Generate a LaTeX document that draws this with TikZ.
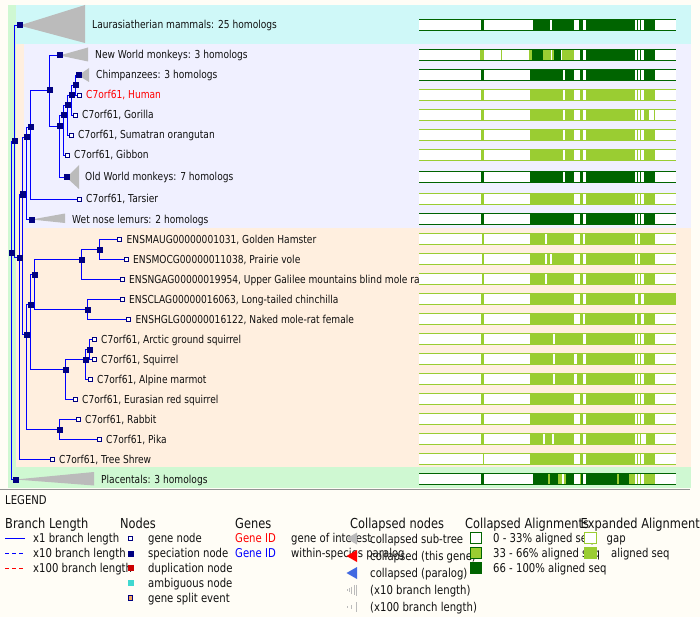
\documentclass[tikz,border=0pt]{standalone}
\usepackage{fontspec}
\setmainfont{DejaVu Sans}[FakeStretch=0.83]
\definecolor{bg}{HTML}{FFFDF6}
\definecolor{bandgreen}{HTML}{CFF8D2}
\definecolor{bandcyan}{HTML}{CFF8F8}
\definecolor{bandpeach}{HTML}{FFEFDF}
\definecolor{bandlav}{HTML}{F0F0FF}
\definecolor{navy}{HTML}{000080}
\definecolor{treeblue}{HTML}{0000FF}
\definecolor{collgray}{HTML}{BBBBBB}
\definecolor{txt}{HTML}{111111}
\definecolor{lg}{HTML}{9ACD32}
\definecolor{dg}{HTML}{006400}
\definecolor{dupred}{HTML}{CC0000}
\definecolor{ambig}{HTML}{40D8D0}
\definecolor{splitor}{HTML}{F4A460}
\definecolor{parblue}{HTML}{4169E1}
\newcommand\tf{\fontsize{11}{13}\selectfont}
\newcommand\lf{\fontsize{12.2}{14}\selectfont}
\newcommand\hf{\fontsize{13.8}{16}\selectfont}
\newcommand\alnbar[3]{%
  \fill[white] (419,{#1-6}) rectangle (676,{#1+6});
  \foreach \p/\q/\cl in {#3}{\fill[\cl] ({410+\p/3},{#1-6}) rectangle ({410+\q/3},{#1+6});}
  \draw[#2,line width=1bp] (419,{#1-5.5}) -- (676,{#1-5.5}) (419,{#1+5.5}) -- (676,{#1+5.5});
}
\tikzset{
  br/.style={draw=treeblue, line width=1.1bp},
  spec/.style={fill=navy, minimum size=6bp, inner sep=0pt, draw=none},
  leafbox/.style={fill=white, draw=navy, line width=1bp, minimum size=4.2bp, inner sep=0pt},
  coll/.style={fill=collgray, draw=none},
  lbl/.style={anchor=base west, inner sep=0pt, font=\tf, text=txt},
  leg/.style={anchor=base west, inner sep=0pt, font=\lf, text=txt},
  hdg/.style={anchor=base west, inner sep=0pt, font=\hf, text=txt},
}
\begin{document}
\begin{tikzpicture}[x=1bp,y=-1bp]
\useasboundingbox (0,0) rectangle (700,617);
\fill[bg] (0,0) rectangle (700,617);
% bands
\fill[bandgreen] (8,5) rectangle (691,488);
\fill[bandcyan] (16,5) rectangle (691,44);
\fill[bandpeach] (16,44) rectangle (691,467);
\fill[bandlav] (24,44) rectangle (691,228);

% tree coordinates (shifted half a pixel for crisp lines)
\begin{scope}[shift={(0.5,0.5)}]
\coordinate (R) at (11,252);
\coordinate (B) at (14,141);
\coordinate (C) at (19,257);
\coordinate (D) at (22,194);
\coordinate (Prim) at (26,137);
\coordinate (Hap) at (30,127);
\coordinate (Sim) at (49,90);
\coordinate (Cat) at (59,126);
\coordinate (Hom) at (63,115);
\coordinate (HGO) at (67,105);
\coordinate (HG) at (71,95);
\coordinate (HC) at (75,85);
\coordinate (Laur) at (19,25);
\coordinate (NWM) at (59,55);
\coordinate (Chimp) at (78,75);
\coordinate (OWM) at (66,177);
\coordinate (Lem) at (31,219);
\coordinate (Plac) at (15,479);
\coordinate (Gli) at (26,334);
\coordinate (Rod) at (30,304);
\coordinate (RodA) at (34,274);
\coordinate (Mur) at (81,259);
\coordinate (HV) at (99,249);
\coordinate (Hys) at (87,309);
\coordinate (Sq) at (65,369);
\coordinate (SqB) at (85,359);
\coordinate (SqC) at (89,349);
\coordinate (Lago) at (59,429);
\coordinate (lHuman) at (79,95);
\coordinate (lGor) at (75,115);
\coordinate (lOra) at (71,135);
\coordinate (lGib) at (67,155);
\coordinate (lTar) at (79,199);
\coordinate (lHam) at (119,239);
\coordinate (lVole) at (126,259);
\coordinate (lGal) at (122,279);
\coordinate (lChin) at (122,299);
\coordinate (lNak) at (128,319);
\coordinate (lArc) at (94,339);
\coordinate (lSqu) at (94,359);
\coordinate (lAlp) at (90,379);
\coordinate (lEur) at (75,399);
\coordinate (lRab) at (78,419);
\coordinate (lPika) at (99,439);
\coordinate (lShrew) at (52,459);
\end{scope}

% collapsed triangles
\fill[coll] (Laur) -- (85,5) -- (85,43) -- cycle;
\fill[coll] (NWM) -- (88,47.5) -- (88,61.5) -- cycle;
\fill[coll] (Chimp) -- (89,68) -- (89,82) -- cycle;
\fill[coll] (OWM) -- (79,165) -- (79,189) -- cycle;
\fill[coll] (Lem) -- (65,213.5) -- (65,223) -- cycle;
\fill[coll] (Plac) -- (94,472) -- (94,485.5) -- cycle;

% branches
\draw[br] (R) |- (B) (R) |- (Plac)
  (B) |- (Laur) (B) |- (C)
  (C) |- (D) (C) |- (lShrew)
  (D) |- (Prim) (D) |- (Gli)
  (Prim) |- (Hap) (Prim) |- (Lem)
  (Hap) |- (Sim) (Hap) |- (lTar)
  (Sim) |- (NWM) (Sim) |- (Cat)
  (Cat) |- (Hom) (Cat) |- (OWM)
  (Hom) |- (HGO) (Hom) |- (lGib)
  (HGO) |- (HG) (HGO) |- (lOra)
  (HG) |- (HC) (HG) |- (lGor)
  (HC) |- (Chimp) (HC) |- (lHuman)
  (Gli) |- (Rod) (Gli) |- (Lago)
  (Rod) |- (RodA) (Rod) |- (Sq)
  (RodA) |- (Mur) (RodA) |- (Hys)
  (Mur) |- (HV) (Mur) |- (lGal)
  (HV) |- (lHam) (HV) |- (lVole)
  (Hys) |- (lChin) (Hys) |- (lNak)
  (Sq) |- (SqB) (Sq) |- (lEur)
  (SqB) |- (SqC) (SqB) |- (lAlp)
  (SqC) |- (lArc) (SqC) |- (lSqu)
  (Lago) |- (lRab) (Lago) |- (lPika);

% internal / collapsed node squares
\foreach \n in {R,B,C,D,Prim,Hap,Sim,Cat,Hom,HGO,HG,HC,Laur,NWM,Chimp,OWM,Lem,Plac,Gli,Rod,RodA,Mur,HV,Hys,Sq,SqB,SqC,Lago}
  \node[spec] (n\n) at (\n) {};
% leaf squares
\foreach \n in {lHuman,lGor,lOra,lGib,lTar,lHam,lVole,lGal,lChin,lNak,lArc,lSqu,lAlp,lEur,lRab,lPika,lShrew}
  \node[leafbox] (b\n) at (\n) {};

% labels
\node[lbl] (tLaur) at (92,29) {Laurasiatherian mammals: 25 homologs};
\node[lbl] (tNWM) at (95,59) {New World monkeys: 3 homologs};
\node[lbl] (tChimp) at (96,79) {Chimpanzees: 3 homologs};
\node[lbl, text=red] (tHuman) at (86,99) {C7orf61, Human};
\node[lbl] (tGor) at (82,119) {C7orf61, Gorilla};
\node[lbl] (tOra) at (78,139) {C7orf61, Sumatran orangutan};
\node[lbl] (tGib) at (74,159) {C7orf61, Gibbon};
\node[lbl] (tOWM) at (85,181) {Old World monkeys: 7 homologs};
\node[lbl] (tTar) at (86,203) {C7orf61, Tarsier};
\node[lbl] (tLem) at (72,223) {Wet nose lemurs: 2 homologs};
\node[lbl] (tHam) at (126.5,243) {ENSMAUG00000001031, Golden Hamster};
\node[lbl] (tVole) at (133,263) {ENSMOCG00000011038, Prairie vole};
\node[lbl] (tGal) at (129,283) {ENSNGAG00000019954, Upper Galilee mountains blind mole rat};
\node[lbl] (tChin) at (129,303) {ENSCLAG00000016063, Long-tailed chinchilla};
\node[lbl] (tNak) at (135.5,323) {ENSHGLG00000016122, Naked mole-rat female};
\node[lbl] (tArc) at (101,343) {C7orf61, Arctic ground squirrel};
\node[lbl] (tSqu) at (101,363) {C7orf61, Squirrel};
\node[lbl] (tAlp) at (97,383) {C7orf61, Alpine marmot};
\node[lbl] (tEur) at (82,403) {C7orf61, Eurasian red squirrel};
\node[lbl] (tRab) at (85,423) {C7orf61, Rabbit};
\node[lbl] (tPika) at (106,443) {C7orf61, Pika};
\node[lbl] (tShrew) at (59,463) {C7orf61, Tree Shrew};
\node[lbl] (tPlac) at (101,483) {Placentals: 3 homologs};

% alignment bars
\alnbar{25}{dg}{213/221/dg,369/420/dg,426/492/dg,506/518/dg,528/675/dg,681/684/dg,690/693/dg,702/735/dg}
\alnbar{55}{dg}{210/221/lg,273/275/lg,357/366/lg,366/399/dg,399/423/lg,426/432/lg,432/453/dg,456/492/lg,510/518/dg,528/675/dg,681/684/dg,690/693/dg,702/735/dg}
\alnbar{75}{dg}{213/221/dg,360/459/dg,465/492/dg,510/518/dg,528/675/dg,681/684/dg,690/693/dg,702/735/dg}
\alnbar{95}{lg}{213/221/lg,360/459/lg,465/492/lg,510/518/lg,528/675/lg,681/684/lg,690/693/lg,702/735/lg}
\alnbar{115}{lg}{213/221/lg,360/459/lg,465/492/lg,510/518/lg,528/675/lg,681/684/lg,690/693/lg,702/717/lg,732/735/lg}
\alnbar{135}{lg}{213/221/lg,360/459/lg,465/492/lg,510/518/lg,528/675/lg,681/684/lg,690/693/lg,702/735/lg}
\alnbar{155}{lg}{213/221/lg,360/459/lg,465/492/lg,510/518/lg,528/675/lg,681/684/lg,690/693/lg,702/735/lg}
\alnbar{177}{dg}{213/221/dg,360/459/dg,465/492/dg,510/518/dg,528/675/dg,681/684/dg,690/693/dg,702/735/dg}
\alnbar{199}{lg}{213/221/lg,360/492/lg,510/518/lg,528/675/lg,681/684/lg,690/693/lg,702/735/lg}
\alnbar{219}{dg}{213/221/dg,360/492/dg,510/518/dg,528/675/dg,681/684/dg,690/693/dg,702/735/dg}
\alnbar{239}{lg}{215/221/lg,360/405/lg,411/492/lg,510/518/lg,524/675/lg,681/684/lg,690/735/lg}
\alnbar{259}{lg}{215/221/lg,360/405/lg,411/420/lg,426/492/lg,510/518/lg,528/675/lg,681/684/lg,690/735/lg}
\alnbar{279}{lg}{215/221/lg,360/405/lg,411/492/lg,510/518/lg,528/675/lg,681/684/lg,690/693/lg,702/735/lg}
\alnbar{299}{lg}{213/221/lg,360/492/lg,510/518/lg,528/675/lg,683/693/lg,702/797/lg}
\alnbar{319}{lg}{213/221/lg,360/492/lg,510/518/lg,524/675/lg,681/693/lg,702/735/lg}
\alnbar{339}{lg}{213/221/lg,360/429/lg,435/518/lg,528/675/lg,681/684/lg,690/693/lg,702/735/lg}
\alnbar{359}{lg}{213/221/lg,360/429/lg,435/492/lg,500/518/lg,528/675/lg,681/684/lg,690/693/lg,702/735/lg}
\alnbar{379}{lg}{213/221/lg,360/429/lg,435/492/lg,500/518/lg,528/675/lg,681/684/lg,690/693/lg,702/735/lg}
\alnbar{399}{lg}{213/221/lg,360/492/lg,510/518/lg,528/675/lg,681/684/lg,690/693/lg,702/735/lg}
\alnbar{419}{lg}{213/221/lg,360/492/lg,510/518/lg,528/675/lg,681/684/lg,690/693/lg,702/735/lg}
\alnbar{439}{lg}{213/221/lg,360/399/lg,405/426/lg,432/492/lg,510/518/lg,528/675/lg,681/684/lg,690/693/lg,708/735/lg}
\alnbar{459}{lg}{219/221/lg,360/492/lg,510/518/lg,528/675/lg,681/684/lg,690/693/lg,702/735/lg}
\alnbar{479}{dg}{213/221/dg,369/414/dg,414/420/lg,420/444/dg,444/456/lg,462/468/lg,468/492/dg,510/513/lg,513/518/dg,528/621/dg,621/627/lg,627/657/dg,657/675/lg,681/684/lg,690/693/lg,702/735/lg}

% legend
\draw[draw=gray!85, line width=1bp] (0,489.5) -- (690,489.5);
\node[leg] (legtitle) at (5,504.5) {LEGEND};
\node[hdg] (h1) at (5,528) {Branch Length};
\node[hdg] (h2) at (120,528) {Nodes};
\node[hdg] (h3) at (235,528) {Genes};
\node[hdg] (h4) at (350,528) {Collapsed nodes};
\node[hdg] (h5) at (465,528) {Collapsed Alignments};
\node[hdg] (h6) at (580.5,528) {Expanded Alignments};
% branch length
\draw[treeblue, line width=1.1bp] (5,538.5) -- (25,538.5);
\draw[treeblue, line width=1.1bp, dash pattern=on 4bp off 3bp] (5,553.5) -- (25,553.5);
\draw[red, line width=1.1bp, dash pattern=on 4bp off 3bp] (5,568.5) -- (25,568.5);
\node[leg] (bl1) at (33,542.4) {x1 branch length};
\node[leg] (bl2) at (33,557.4) {x10 branch length};
\node[leg] (bl3) at (33,572.4) {x100 branch length};
% nodes
\node[leafbox] (ln1) at (130.5,538.5) {};
\node[spec] (ln2) at (130.5,553.5) {};
\node[spec, fill=dupred] (ln3) at (130.5,568) {};
\node[spec, fill=ambig] (ln4) at (130.5,583) {};
\node[leafbox, fill=splitor] (ln5) at (130.5,598) {};
\node[leg] (nt1) at (148,542.4) {gene node};
\node[leg] (nt2) at (148,557.4) {speciation node};
\node[leg] (nt3) at (148,572.4) {duplication node};
\node[leg] (nt4) at (148,587.4) {ambiguous node};
\node[leg] (nt5) at (148,602.4) {gene split event};
% genes
\node[leg, text=red] (g1) at (235,542.4) {Gene ID};
\node[leg, text=treeblue] (g2) at (235,557.4) {Gene ID};
\node[leg] (g3) at (291,542.4) {gene of interest};
\node[leg] (g4) at (291,557.4) {within-species paralog};
% collapsed nodes
\fill[collgray] (346.5,538.5) -- (357,532.5) -- (357,544.5) -- cycle;
\fill[red] (346.5,556) -- (357,550) -- (357,562) -- cycle;
\fill[parblue] (346.5,573) -- (357,567) -- (357,579) -- cycle;
\foreach \xx/\hh in {347/0.6,349.3/2,351.6/3.5,353.9/5,356.2/5.5}
  \draw[collgray, line width=0.8bp] (\xx,{590-\hh}) -- (\xx,{590+\hh});
\foreach \xx/\hh in {347/0.6,351/2,356/5}
  \draw[collgray, line width=0.8bp] (\xx,{607-\hh}) -- (\xx,{607+\hh});
\node[leg] (c1) at (370,543) {collapsed sub-tree};
\node[leg] (c2) at (370,560.4) {collapsed (this gene)};
\node[leg] (c3) at (370,577.4) {collapsed (paralog)};
\node[leg] (c4) at (370,594.4) {(x10 branch length)};
\node[leg] (c5) at (370,611.4) {(x100 branch length)};
% collapsed alignments
\node[leg] (ca1) at (493,542.4) {0 - 33\% aligned seq};
\node[leg] (ca2) at (493,557.4) {33 - 66\% aligned seq};
\node[leg] (ca3) at (493,572.4) {66 - 100\% aligned seq};
\draw[dg, fill=white, line width=1bp] (470.5,532.8) rectangle (481.2,543.8);
\draw[dg, fill=lg, line width=1bp] (470.5,547.5) rectangle (481.2,558.8);
\fill[dg] (470,562) rectangle (481.7,574.3);
% expanded alignments
\draw[lg, fill=white, line width=1bp] (584.8,532.8) rectangle (596.2,543.8);
\fill[lg] (584.3,547) rectangle (596.7,559.3);
\node[leg] (ea1) at (606.5,542.4) {gap};
\node[leg] (ea2) at (611,557.4) {aligned seq};
\end{tikzpicture}
\end{document}
